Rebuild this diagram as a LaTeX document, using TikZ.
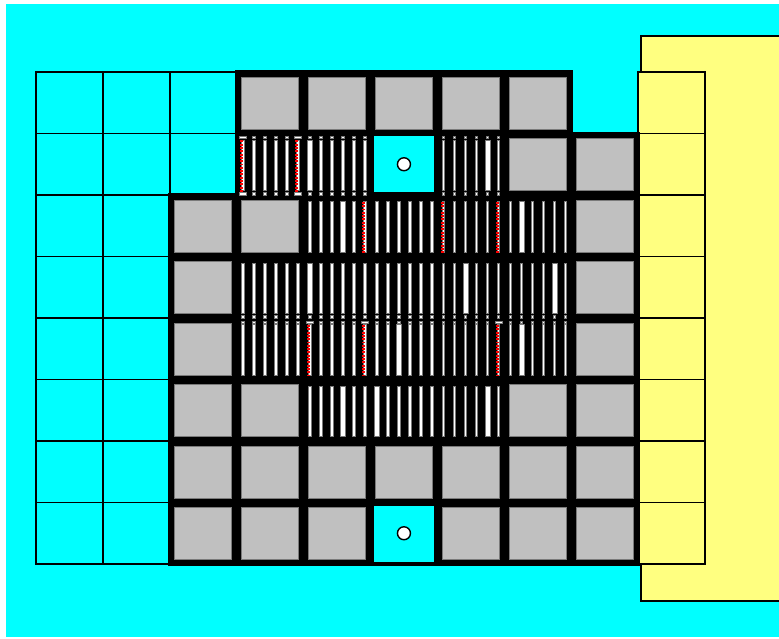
\documentclass[tikz,border=0pt]{standalone}
\usepackage{xcolor}
\definecolor{pCyan}{HTML}{00FFFF}
\definecolor{pYellow}{HTML}{FFFF80}
\definecolor{pGray}{HTML}{C0C0C0}
\definecolor{pEdge}{HTML}{7A7A7A}
\definecolor{pRed}{HTML}{FF0000}
\usepackage{tikz}
\usetikzlibrary{calc}

\begin{document}
\begin{tikzpicture}[
  x=1pt, y=-1pt,
  cell/.style={draw=black, line width=1.6pt},
  slot/.style={fill=pGray, draw=pEdge, line width=0.8pt},
  pin/.style={fill=white, draw=pEdge, line width=0.6pt},
  rod/.style={draw=pRed, line width=2.6pt, dash pattern=on 1.9pt off 1.4pt},
  hole/.style={fill=white, draw=black, line width=1.4pt}
]
\useasboundingbox (0,0) rectangle (779,639);
\fill[pCyan] (6,4) rectangle (779,637);
\draw[fill=pYellow, line width=1.2pt] (641,36) rectangle (785,601);

% outer cells
\foreach \r in {0,...,7} {
  \foreach \c in {0,1}
    \draw[cell, fill=pCyan] ({36+66.9*\c},{72+61.5*\r}) rectangle ++(66.9,61.5);
  \draw[cell, fill=pYellow] ({36+66.9*9},{72+61.5*\r}) rectangle ++(66.9,61.5);
}
\foreach \r in {0,1}
  \draw[cell, fill=pCyan] ({36+66.9*2},{72+61.5*\r}) rectangle ++(66.9,61.5);

% core
\filldraw[line width=3pt, line join=miter]
  (236.7,72) -- (571.2,72) -- (571.2,133.5) -- (638.1,133.5)
  -- (638.1,564) -- (169.8,564) -- (169.8,195) -- (236.7,195) -- cycle;

\foreach \r/\c in {0/3,0/4,0/5,0/6,0/7,1/7,1/8,2/2,2/3,2/8,3/2,3/8,4/2,4/8,
                   5/2,5/3,5/7,5/8,6/2,6/3,6/4,6/5,6/6,6/7,6/8,
                   7/2,7/3,7/4,7/6,7/7,7/8}
  \draw[slot] ({36+66.9*\c+5},{72+61.5*\r+5}) rectangle ({36+66.9*(\c+1)-5},{72+61.5*(\r+1)-4.5});

\foreach \r in {1,7} {
  \fill[pCyan] ({36+66.9*5+3},{72+61.5*\r+3}) rectangle ({36+66.9*6-3},{72+61.5*(\r+1)-2.5});
  \draw[hole] ({36+66.9*5.5},{72+61.5*(\r+0.5)}) circle (6.5);
}

% fuel pins
\foreach \r/\c in {1/3,1/4,1/6,2/4,2/5,2/6,2/7,3/3,3/4,3/5,3/6,3/7,
                   4/3,4/4,4/5,4/6,4/7,5/4,5/5,5/6}
  \foreach \o in {6,17,28,39,50,61}
    \draw[pin] ({36+66.9*\c+\o-1.3},{72+61.5*\r+6.5}) rectangle ({36+66.9*\c+\o+1.3},{72+61.5*(\r+1)-4.5});

\foreach \r/\c/\o in {1/4/6,1/6/50,2/4/39,2/7/17,3/4/6,3/6/28,3/7/50,
                      4/5/28,4/7/17,5/4/39,5/5/6,5/6/50}
  \draw[pin] ({36+66.9*\c+\o-2.5},{72+61.5*\r+6.5}) rectangle ({36+66.9*\c+\o+2.5},{72+61.5*(\r+1)-4.5});

% end plugs
\foreach \c in {3,4,6}
  \foreach \o in {6,17,28,39,50,61} {
    \draw[pin] ({36+66.9*\c+\o-1.3},136) rectangle ++(2.6,2.6);
    \draw[pin] ({36+66.9*\c+\o-1.3},192.5) rectangle ++(2.6,2.6);
  }
\foreach \c in {3,...,7}
  \foreach \o in {6,17,28,39,50,61} {
    \draw[pin] ({36+66.9*\c+\o-1.3},315.5) rectangle ++(2.6,2.6);
    \draw[pin] ({36+66.9*\c+\o-1.3},321) rectangle ++(2.6,2.6);
  }

% control rods
\foreach \r/\c/\o in {1/3/6,1/3/61,2/4/61,2/6/6,2/6/61,4/4/6,4/4/61,4/6/61}
  \draw[rod] ({36+66.9*\c+\o-1},{72+61.5*\r+7}) -- ({36+66.9*\c+\o-1},{72+61.5*(\r+1)-2.5});
\foreach \o in {6,61} {
  \draw[pin] ({36+66.9*3+\o-3.5},136) rectangle ++(7,2.6);
  \draw[pin] ({36+66.9*3+\o-3.5},192.5) rectangle ++(7,2.6);
  \draw[pin] ({36+66.9*4+\o-3.5},321) rectangle ++(7,2.6);
}
\draw[pin] ({36+66.9*6+61-3.5},321) rectangle ++(7,2.6);
\end{tikzpicture}
\end{document}
